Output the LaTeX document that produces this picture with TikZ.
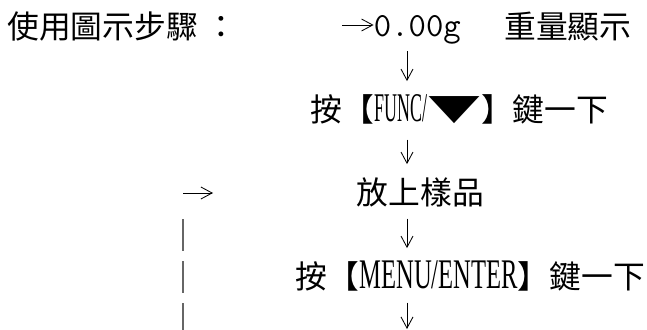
\documentclass[tikz,border=0pt]{standalone}
\usepackage{fontspec}
\usepackage{graphicx}
\usepackage{tikz}
\usetikzlibrary{arrows.meta}
\newfontfamily\cjk{Noto Sans CJK TC}
\newfontfamily\keyfont[FakeStretch=0.583]{Liberation Serif}
\newcommand{\keyname}[2][30]{{\fontsize{#1}{#1}\keyfont #2}}
\tikzset{
	row/.style={font=\cjk\fontsize{22.6}{27}\selectfont, inner sep=0pt, text height=0.63cm, text depth=0.04cm, anchor=west},
	flow/.style={line width=0.6pt, arrows=-{Straight Barb[length=0.28cm,width=0.3cm]}},
	down/.style={flow, shorten <=0.3cm, shorten >=0.38cm},
	bar/.style={line width=0.8pt, black!60, dash pattern=on 0.8cm off 0.25cm}
}

\begin{document}
\begin{tikzpicture}
	\useasboundingbox (0,0) rectangle (16.175,8.225);
	\node[row] (title) at (0.175,7.55) {使用圖示步驟 ：};
	\node[row, anchor=base west, font=\ttfamily\fontsize{24}{24}\selectfont] (zero) at (9.34,7.3) {0.00g};
	\node[row] (weight) at (12.6,7.55) {重量顯示};
	\node[row] (func) at (7.76,5.475) {按【\scalebox{0.756}[1]{\keyname[29]{FUNC/}}\scalebox{1.7}[1.05]{▼}】鍵一下};
	\node[row] (sample) at (8.91,3.4) {放上樣品};
	\node[row] (menu) at (7.39,1.3) {按【\keyname{MENU/ENTER}】鍵一下};
	\coordinate (col) at (10.175,0);
	\coordinate (in) at (8.55,7.6);
	\coordinate (back) at (4.575,3.4);
	\coordinate (backend) at (5.325,3.4);
	\coordinate (looptop) at (4.575,2.75);
	\coordinate (loop) at (4.575,-0.3);
	\draw[flow] (in) -- (in -| zero.west);
	\draw[down, shorten <=0.27cm] (title.south -| col) -- (func.north -| col);
	\draw[down, shorten <=0.4cm] (func.south -| col) -- (sample.north -| col);
	\draw[down] (sample.south -| col) -- (menu.north -| col);
	\draw[down, shorten >=0pt] (menu.south -| col) -- (col);
	\draw[flow] (back) -- (backend);
	\draw[bar] (looptop) -- (loop);
\end{tikzpicture}
\end{document}
